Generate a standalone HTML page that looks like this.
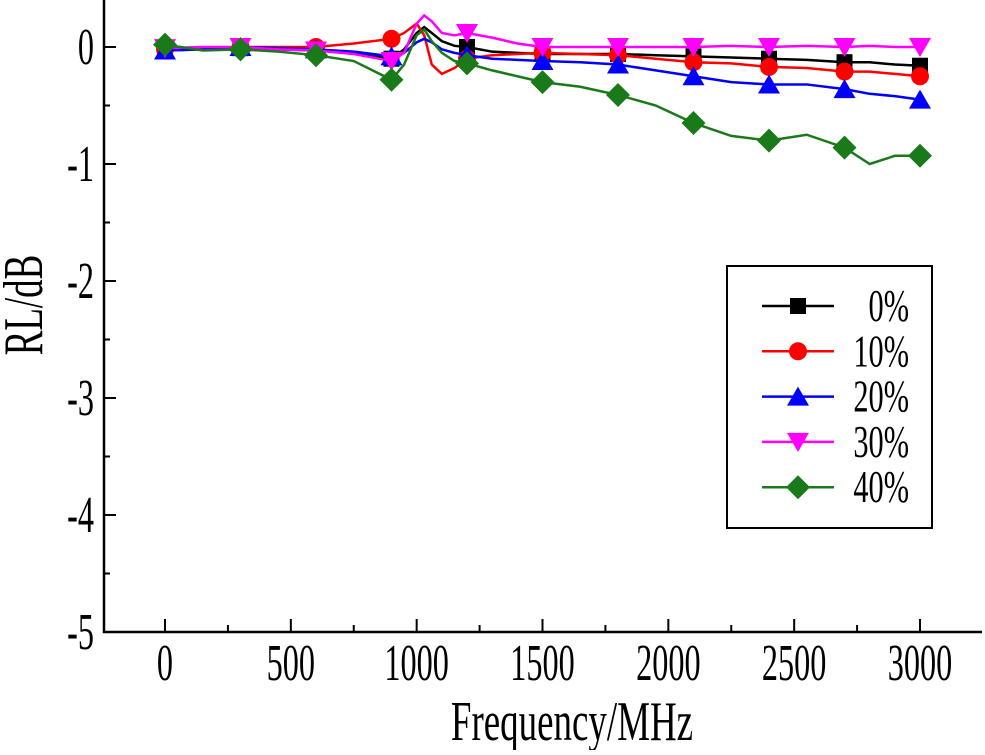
<!DOCTYPE html>
<html><head><meta charset="utf-8"><style>
body{margin:0;background:#fff}
svg text{font-family:"Liberation Serif",serif;fill:#000}
</style></head><body>
<svg id="c" width="985" height="750" xmlns="http://www.w3.org/2000/svg"></svg>
<script>
const freqs=[0,150,300,450,600,750,900,950,1000,1030,1060,1100,1150,1200,1300,1400,1500,1650,1800,1950,2100,2250,2400,2550,2700,2800,2900,3000];
const s0=[-0.03,-0.02,-0.01,-0.02,-0.03,-0.05,-0.1,-0.02,0.12,0.17,0.12,0.05,0.01,0.0,-0.04,-0.05,-0.06,-0.06,-0.06,-0.07,-0.08,-0.09,-0.1,-0.11,-0.13,-0.13,-0.15,-0.16];
const s10=[-0.02,-0.01,0.0,0.0,0.0,0.03,0.07,0.12,0.2,0.1,-0.15,-0.23,-0.18,-0.1,-0.07,-0.06,-0.05,-0.06,-0.07,-0.1,-0.13,-0.14,-0.17,-0.18,-0.21,-0.21,-0.23,-0.25];
const s20=[-0.03,-0.02,0.0,-0.01,-0.02,-0.04,-0.08,-0.05,0.04,0.07,0.04,-0.02,-0.05,-0.07,-0.1,-0.11,-0.12,-0.13,-0.15,-0.2,-0.25,-0.3,-0.32,-0.32,-0.36,-0.4,-0.42,-0.45];
const s30=[-0.01,0.0,0.0,-0.02,-0.03,-0.06,-0.12,-0.05,0.2,0.27,0.22,0.12,0.1,0.12,0.08,0.03,0.0,0.0,0.0,0.0,0.0,0.01,0.0,0.01,0.0,0.01,0.0,0.0];
const s40=[0.02,-0.03,-0.02,-0.04,-0.07,-0.12,-0.28,-0.15,0.1,0.15,0.05,-0.05,-0.12,-0.14,-0.2,-0.25,-0.3,-0.34,-0.41,-0.5,-0.65,-0.76,-0.8,-0.75,-0.86,-1.0,-0.93,-0.93];
const seriesNames=["0%","10%","20%","30%","40%"];
const xTicks=[0,500,1000,1500,2000,2500,3000];
const yTicks=[0,-1,-2,-3,-4,-5];

const svg=document.getElementById('c');
const NS="http://www.w3.org/2000/svg";
const X=v=>165+v*(755/3000);
const Y=v=>47-v*117;
function el(t,a,p){const e=document.createElementNS(NS,t);for(const k in a)e.setAttribute(k,a[k]);(p||svg).appendChild(e);return e;}
function sx(x,k){return `translate(${x},0) scale(${k},1) translate(${-x},0)`;}

const ax=el('g',{});


el('line',{x1:104,y1:0,x2:104,y2:633,stroke:'#000','stroke-width':2.5},ax);
el('line',{x1:103,y1:632,x2:982,y2:632,stroke:'#000','stroke-width':2.5},ax);
for(let v=-250;v<=3250;v+=250){const x=X(v);if(x<106||x>981)continue;
  const major=v%500===0;el('line',{x1:x,y1:632,x2:x,y2:major?619:625,stroke:'#000','stroke-width':2},ax);}
for(let v=0.5;v>=-5;v-=0.5){const y=Y(v);if(y<2)continue;const major=Math.abs(v%1)<1e-9;
  el('line',{x1:104,y1:y,x2:major?116:110,y2:y,stroke:'#000','stroke-width':2},ax);}
xTicks.forEach(v=>{const t=el('text',{x:X(v),y:680,'font-size':52,'text-anchor':'middle',transform:sx(X(v),0.62)},ax);t.textContent=v;
  });
yTicks.forEach(v=>{const t=el('text',{x:94,y:Y(v)+17,'font-size':52,'text-anchor':'end',transform:sx(94,0.62)},ax);t.textContent=v;
  });
const xt=el('text',{x:572,y:740,'font-size':56,'text-anchor':'middle',transform:sx(572,0.66)});
xt.textContent='Frequency/MHz';

const yt=el('text',{x:0,y:0,'font-size':56,'text-anchor':'middle',transform:'translate(42,305) rotate(-90) scale(0.66,1)'});
yt.textContent='RL/dB';


const colors=['#000','#f00','#00f','#f0f','#1a7a1a'];
const data=[s0,s10,s20,s30,s40];
const shapes=['square','circle','up','down','diamond'];
function marker(g,shape,x,y,c){
  if(shape==='square')el('rect',{x:x-8,y:y-8,width:16,height:16,fill:c},g);
  else if(shape==='circle')el('circle',{cx:x,cy:y,r:9,fill:c},g);
  else if(shape==='up')el('polygon',{points:`${x},${y-10} ${x-11},${y+9} ${x+11},${y+9}`,fill:c},g);
  else if(shape==='down')el('polygon',{points:`${x},${y+10} ${x-11},${y-9} ${x+11},${y-9}`,fill:c},g);
  else el('polygon',{points:`${x},${y-12} ${x+12},${y} ${x},${y+12} ${x-12},${y}`,fill:c},g);
}
data.forEach((s,i)=>{
  const g=el('g',{});
  
  
  el('polyline',{points:s.map((v,j)=>X(freqs[j])+','+Y(v)).join(' '),fill:'none',stroke:colors[i],'stroke-width':2.5},g);
  s.forEach((v,j)=>{if(freqs[j]%300===0)marker(g,shapes[i],X(freqs[j]),Y(v),colors[i]);});
});

const lg=el('g',{});


el('rect',{x:727,y:266,width:205,height:262,fill:'#fff',stroke:'#000','stroke-width':2},lg);
seriesNames.forEach((n,i)=>{
  const y=306+i*45.3;
  const e=el('g',{},lg);
  
  
  el('line',{x1:762,y1:y,x2:834,y2:y,stroke:colors[i],'stroke-width':2.5},e);
  marker(e,shapes[i],798,y,colors[i]);
  const t=el('text',{x:909,y:y+15,'font-size':46,'text-anchor':'end',transform:sx(909,0.66)},e);
  t.textContent=n;
});
</script>
</body></html>
